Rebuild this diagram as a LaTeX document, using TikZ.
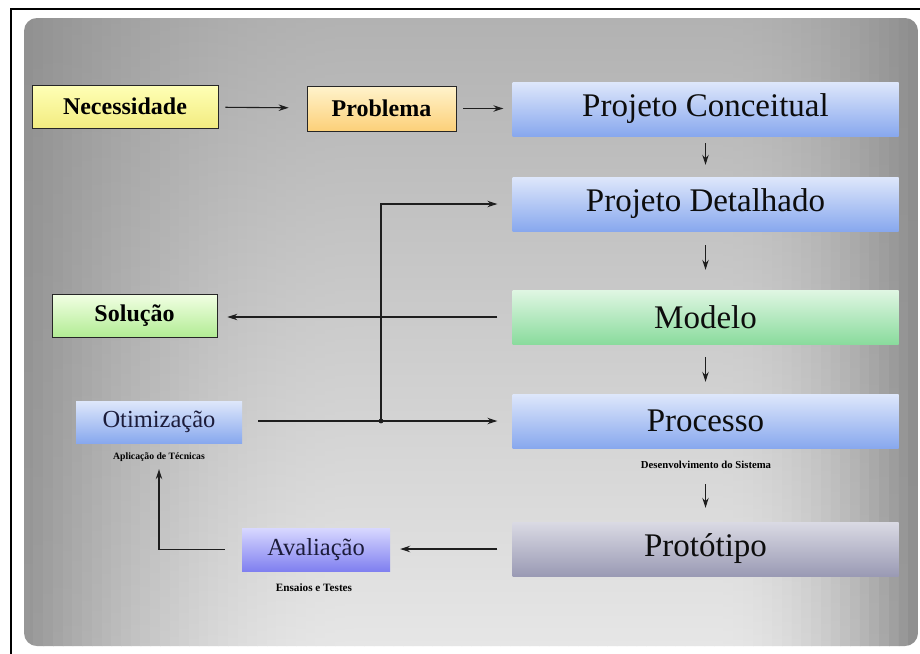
\documentclass[tikz,border=0pt]{standalone}
\usepackage{fontspec}
\setmainfont{Liberation Serif}
\usetikzlibrary{arrows.meta}

% box fills
\definecolor{yelTop}{HTML}{FFFFB6}
\definecolor{yelBot}{HTML}{F2EC80}
\definecolor{orgTop}{HTML}{FFF3CC}
\definecolor{orgBot}{HTML}{FCD079}
\definecolor{bluTop}{HTML}{DEE7FB}
\definecolor{bluBot}{HTML}{88A8EE}
\definecolor{grnTop}{HTML}{E0F6E3}
\definecolor{grnBot}{HTML}{8ADB9D}
\definecolor{limTop}{HTML}{F2FFE4}
\definecolor{limBot}{HTML}{B2EC94}
\definecolor{grayTop}{HTML}{DADAE4}
\definecolor{grayBot}{HTML}{9A9AB4}
\definecolor{vioTop}{HTML}{D8D8FF}
\definecolor{vioBot}{HTML}{8080F0}
\definecolor{bgTop}{HTML}{B2B2B2}
\definecolor{bgBot}{HTML}{E6E6E6}
\definecolor{edgeDark}{HTML}{8C8C8C}
\definecolor{inkNavy}{HTML}{1C1C3A}
\definecolor{lineInk}{HTML}{1E1E1E}

\tikzset{
  flow/.style={draw=lineInk, line width=1.1pt, -{Stealth[length=10pt,width=6.5pt]}},
  tagbox/.style={draw=black!85, line width=0.8pt, inner sep=0pt,
    minimum height=43pt, font=\fontsize{24}{24}\selectfont\bfseries},
  stagebox/.style={inner sep=0pt, minimum width=386pt, minimum height=54pt,
    top color=bluTop, bottom color=bluBot, text=black!95,
    font=\fontsize{33}{33}\selectfont},
  sidebox/.style={inner sep=0pt, minimum height=43pt, text=inkNavy,
    font=\fontsize{24.5}{24.5}\selectfont},
  note/.style={inner sep=0pt, font=\bfseries}
}

\begin{document}
\begin{tikzpicture}[x=1pt,y=-1pt]
\useasboundingbox (0,0) rectangle (920,653);
\fill[white] (0,0) rectangle (920,653);

% outer frame
\draw[line width=1.8pt, black] (11,9) rectangle (930,665);

% panel background: vertical gradient, darkened towards both side edges
\begin{scope}
  \clip[rounded corners=13pt] (24,18) rectangle (918,646);
  \foreach \i in {0,...,91} {
    \pgfmathsetmacro{\xa}{24+\i*9.72}
    \pgfmathsetmacro{\xm}{\xa+4.86}
    \pgfmathsetmacro{\fl}{max(0,1-(\xm-24)/330)}
    \pgfmathsetmacro{\fr}{max(0,1-(918-\xm)/200)}
    \pgfmathsetmacro{\f}{100*min(1,0.9*\fl*\fl+1.0*\fr*\fr)}
    \colorlet{stripTop}{edgeDark!\f!bgTop}
    \colorlet{stripBot}{edgeDark!\f!bgBot}
    \shade[top color=stripTop, bottom color=stripBot]
      (\xa,18) rectangle (\xa+10.4,646);
  }
\end{scope}

% top row
\node[tagbox, minimum width=186pt, top color=yelTop, bottom color=yelBot] (nec) at (125,106.5) {Necessidade};
\node[tagbox, minimum width=149pt, minimum height=45pt, top color=orgTop, bottom color=orgBot] (prob) at (381.5,108.5) {Problema};

% main column
\node[stagebox] (pc) at (705.5,109) {Projeto Conceitual};
\node[stagebox] (pd) at (705.5,204) {Projeto Detalhado};
\node[stagebox, top color=grnTop, bottom color=grnBot] (mod) at (705.5,317) {Modelo};
\node[stagebox] (proc) at (705.5,421) {Processo};
\node[stagebox, top color=grayTop, bottom color=grayBot] (prot) at (705.5,549) {Protótipo};

% left side
\node[tagbox, minimum width=165pt, top color=limTop, bottom color=limBot] (sol) at (134.5,315.5) {Solução};
\node[sidebox, minimum width=166pt, minimum height=42pt, top color=bluTop, bottom color=bluBot] (otim) at (159,422) {Otimização};
\node[sidebox, minimum width=148pt, top color=vioTop, bottom color=vioBot] (aval) at (316,549.5) {Avaliação};

% captions
\node[note, font=\fontsize{10.7}{10.7}\selectfont\bfseries] (capProc) at (706,465) {Desenvolvimento do Sistema};
\node[note, font=\fontsize{9.7}{9.7}\selectfont\bfseries] (capOtim) at (159,457) {Aplicação de Técnicas};
\node[note, font=\fontsize{11.2}{11.2}\selectfont\bfseries] (capAval) at (314,588) {Ensaios e Testes};

% connectors
\draw[flow, shorten <=7pt, shorten >=18pt] (nec) -- (prob);
\draw[flow, shorten <=7pt, shorten >=9pt] (prob.east) -- (prob.east -| pc.west);
\draw[flow, shorten <=7pt, shorten >=12pt] (pc) -- (pd);
\draw[flow, shorten <=14pt, shorten >=20pt] (pd) -- (mod);
\draw[flow, shorten <=13pt, shorten >=12pt] (mod) -- (proc);
\draw[flow, shorten <=36pt, shorten >=14pt] (proc) -- (prot);
\draw[flow, shorten <=15pt, shorten >=10pt] (mod.west) -- (sol.east |- mod.west);
\draw[flow, shorten <=15pt, shorten >=10pt] (prot.west) -- (aval.east |- prot.west);
\draw[flow, shorten <=17pt, shorten >=26pt] (aval.west) -| (otim.south);
\draw[flow, shorten <=16pt, shorten >=15pt] (otim.east |- proc.west) -- (proc.west);

\coordinate (split) at (381,421);
\draw[flow, shorten >=15pt] (split) |- (pd.west);
\fill[lineInk] (split) circle (2.4pt);
\end{tikzpicture}
\end{document}
